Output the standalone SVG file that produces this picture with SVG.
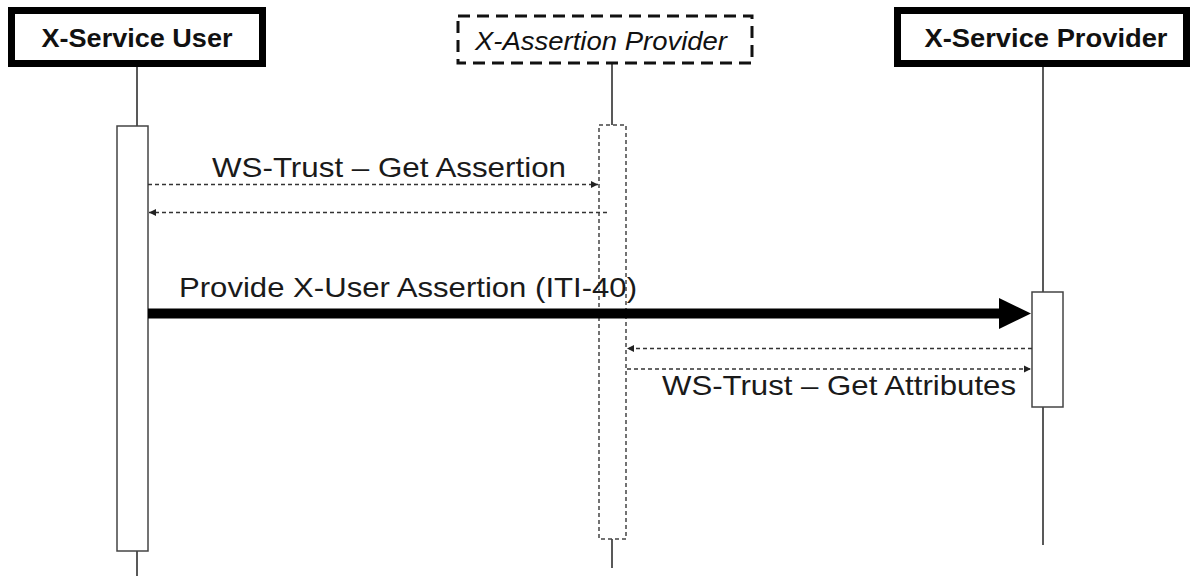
<svg xmlns="http://www.w3.org/2000/svg" width="1197" height="576" viewBox="0 0 1197 576">
<style>
.hdr{fill:#fff;stroke:#000;stroke-width:7}
.hdrd{fill:#fff;stroke:#111;stroke-width:3;stroke-dasharray:12 7}
.ht{font-family:"Liberation Sans",Arial,sans-serif;font-weight:bold;font-size:25px;fill:#111}
.hti{font-family:"Liberation Sans",Arial,sans-serif;font-style:italic;font-size:26px;fill:#111}
.life{stroke:#222;stroke-width:1.5;fill:none}
.act{fill:#fff;stroke:#444;stroke-width:1.5}
.actd{fill:#fff;stroke:#444;stroke-width:1.5;stroke-dasharray:4 3}
.msg{stroke:#333;stroke-width:1.3;stroke-dasharray:4 3;fill:none}
.lbl{font-family:"Liberation Sans",Arial,sans-serif;font-size:28px;fill:#1a1a1a}
</style>
<defs>
<marker id="ah" markerWidth="8" markerHeight="8" refX="7" refY="4" orient="auto" markerUnits="userSpaceOnUse">
<path d="M0,0.5 L7,4 L0,7.5 Z" fill="#222"/>
</marker>
</defs>
<rect width="1197" height="576" fill="#fff"/>
<g id="lifelines">
<line class="life" x1="137" y1="67" x2="137" y2="576"/>
<line class="life" x1="612" y1="63" x2="612" y2="568"/>
<line class="life" x1="1043" y1="67" x2="1043" y2="545"/>
</g>
<g id="node-user">
<rect class="hdr" x="11.5" y="10.5" width="251" height="53"/>
<text class="ht" x="137" y="47" text-anchor="middle" textLength="191" lengthAdjust="spacingAndGlyphs">X-Service User</text>
<rect class="act" x="117" y="126" width="31" height="425"/>
</g>
<g id="node-assertion">
<rect class="hdrd" x="458" y="16" width="294" height="47"/>
<text class="hti" x="601" y="50" text-anchor="middle" textLength="252" lengthAdjust="spacingAndGlyphs">X-Assertion Provider</text>
<rect class="actd" x="599" y="125" width="27" height="414"/>
</g>
<g id="node-provider">
<rect class="hdr" x="897.5" y="10.5" width="289" height="53"/>
<text class="ht" x="1046" y="47" text-anchor="middle" textLength="243" lengthAdjust="spacingAndGlyphs">X-Service Provider</text>
<rect class="act" x="1032" y="292" width="31" height="115"/>
</g>
<g id="connectors">
<line class="msg" x1="148" y1="184.5" x2="598" y2="184.5" marker-end="url(#ah)"/>
<text class="lbl" x="212" y="177" textLength="354" lengthAdjust="spacingAndGlyphs">WS-Trust – Get Assertion</text>
<line class="msg" x1="607" y1="212.5" x2="149" y2="212.5" marker-end="url(#ah)"/>
<line x1="148" y1="313.5" x2="1002" y2="313.5" stroke="#000" stroke-width="10"/>
<path d="M999,298 L1031,313.5 L999,329 Z" fill="#000"/>
<text class="lbl" x="179" y="297" textLength="458" lengthAdjust="spacingAndGlyphs">Provide X-User Assertion (ITI-40)</text>
<line class="msg" x1="1032" y1="348.5" x2="627" y2="348.5" marker-end="url(#ah)"/>
<line class="msg" x1="627" y1="369" x2="1031" y2="369" marker-end="url(#ah)"/>
<text class="lbl" x="662" y="395" textLength="354" lengthAdjust="spacingAndGlyphs">WS-Trust – Get Attributes</text>
</g>
</svg>
